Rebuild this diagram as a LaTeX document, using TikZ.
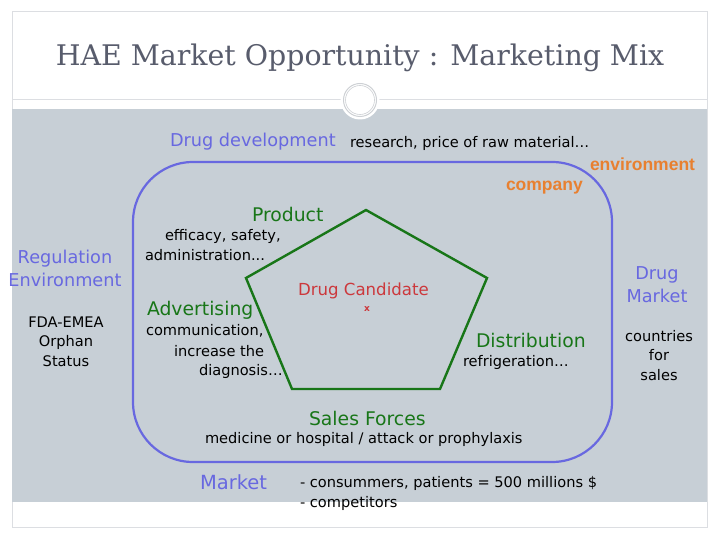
\documentclass[tikz,border=0pt]{standalone}
\usepackage{fontspec}
\setmainfont{DejaVu Sans}
\newfontfamily\titlefont{DejaVu Serif}
\newfontfamily\orangefont{Liberation Sans}
\definecolor{myblue}{RGB}{104,104,224}
\definecolor{mygreen}{RGB}{24,118,24}
\definecolor{myred}{RGB}{204,56,60}
\definecolor{myorange}{RGB}{232,128,48}
\definecolor{band}{RGB}{199,207,214}
\definecolor{framegray}{RGB}{220,222,226}
\definecolor{ringgray}{RGB}{205,208,212}
\definecolor{titlegray}{RGB}{88,92,108}
\tikzset{
  txt/.style={inner sep=0pt, outer sep=0pt},
  bluehead/.style={txt, text=myblue, font=\fontsize{17.7}{23}\selectfont},
  greenhead/.style={txt, text=mygreen, font=\fontsize{18.8}{23}\selectfont},
  body/.style={txt, text=black, font=\fontsize{14.6}{19.5}\selectfont},
  orangehead/.style={txt, text=myorange, font=\orangefont\bfseries\fontsize{17.5}{20}\selectfont},
  redhead/.style={txt, text=myred, font=\fontsize{16.6}{18}\selectfont},
  blueline/.style={draw=myblue, line width=2.2pt},
  greenline/.style={draw=mygreen, line width=2.4pt, line join=miter},
}
\begin{document}
\begin{tikzpicture}[x=1pt,y=-1pt]
\useasboundingbox (0,0) rectangle (720,540);
\fill[white] (0,0) rectangle (720,540);
% slide frame and band
\draw[framegray, line width=1pt] (12,12) rectangle (707,527);
\fill[band] (12,109) rectangle (707,502);
\draw[framegray, line width=1pt] (12,100) -- (707,100);
% ornament
\fill[white] (360,100) circle (19.5);
\draw[ringgray, line width=1pt] (360,100) circle (16.5);
\draw[ringgray, line width=0.6pt] (360,100) circle (14.5);
% title
\node[txt, text=titlegray, font=\titlefont\fontsize{28.4}{34}\selectfont] (title) at (360,58) {HAE Market Opportunity : Marketing Mix};
% company boundary
\draw[blueline, rounded corners=60pt] (133,162) rectangle (612,462);
% pentagon
\coordinate (pt) at (366,210);
\coordinate (pr) at (487,278);
\coordinate (pbr) at (440,389);
\coordinate (pbl) at (292,389);
\coordinate (pl) at (246,278);
\draw[greenline] (pt) -- (pr) -- (pbr) -- (pbl) -- (pl) -- cycle;
% texts
\node[bluehead, anchor=west] (devel) at (170,142) {Drug development};
\node[body, anchor=west] (research) at (350,143) {research, price of raw material…};
\node[orangehead, anchor=west] (env) at (590,164) {environment};
\node[orangehead, anchor=west] (company) at (506,188) {company};
\node[greenhead, anchor=west] (product) at (252,214) {Product};
\node[body, anchor=west] (eff1) at (165,236) {efficacy, safety,};
\node[body, anchor=west] (eff2) at (145,255) {administration...};
\node[bluehead, align=center] (reg) at (65,268.5) {Regulation\\Environment};
\node[body, align=center] (fda) at (66,341.5) {FDA-EMEA\\Orphan\\Status};
\node[greenhead, anchor=west] (adv) at (147,310) {Advertising};
\node[body, anchor=west] (com1) at (146,331) {communication,};
\node[body, anchor=west] (com2) at (174,351) {increase the};
\node[body, anchor=west] (com3) at (199,371) {diagnosis…};
\node[redhead, anchor=west] (cand) at (298,291) {Drug Candidate};
\node[txt, text=myred, font=\bfseries\fontsize{9}{9}\selectfont] (x) at (367,309) {x};
\node[greenhead, anchor=west] (dist) at (476,340) {Distribution};
\node[body, anchor=west] (refr) at (463,362) {refrigeration…};
\node[bluehead, align=center] (dm) at (657,284.5) {Drug\\Market};
\node[body, align=center] (ctry) at (659,355.5) {countries\\for\\sales};
\node[greenhead, anchor=west] (sales) at (309,418) {Sales Forces};
\node[body, anchor=west] (med) at (205,439) {medicine or hospital / attack or prophylaxis};
\node[bluehead, anchor=west, font=\fontsize{19.5}{23}\selectfont] (market) at (200,482) {Market};
\node[body, anchor=west] (cons) at (300,483) {- consummers, patients = 500 millions \$};
\node[body, anchor=west] (comp) at (300,503) {- competitors};
\end{tikzpicture}
\end{document}
